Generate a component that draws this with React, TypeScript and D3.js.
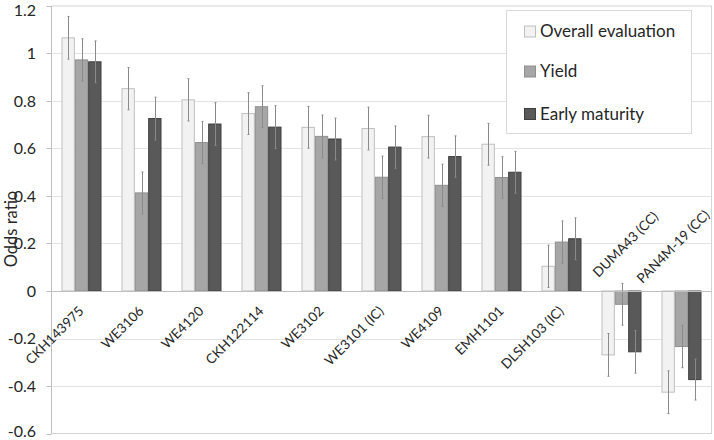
import React from "react";
import * as d3 from "d3";

const categories = ["CKH143975", "WE3106", "WE4120", "CKH122114", "WE3102", "WE3101 (IC)", "WE4109", "EMH1101", "DLSH103 (IC)", "DUMA43 (CC)", "PAN4M-19 (CC)"];
const seriesNames = ["Overall evaluation", "Yield", "Early maturity"];
const overall = [1.066, 0.852, 0.805, 0.747, 0.689, 0.684, 0.65, 0.618, 0.104, -0.269, -0.426];
const overallErr = [0.09, 0.089, 0.089, 0.088, 0.088, 0.09, 0.09, 0.088, 0.089, 0.09, 0.09];
const yieldV = [0.973, 0.413, 0.625, 0.776, 0.651, 0.479, 0.445, 0.478, 0.206, -0.056, -0.234];
const yieldErr = [0.089, 0.088, 0.089, 0.088, 0.09, 0.089, 0.089, 0.087, 0.089, 0.088, 0.089];
const early = [0.965, 0.726, 0.703, 0.69, 0.64, 0.606, 0.566, 0.5, 0.22, -0.256, -0.373];
const earlyErr = [0.088, 0.09, 0.09, 0.09, 0.088, 0.089, 0.087, 0.088, 0.088, 0.09, 0.086];
const yTicks = [-0.6, -0.4, -0.2, 0, 0.2, 0.4, 0.6, 0.8, 1, 1.2];

const fills = ["#f2f2f2", "#a6a6a6", "#595959"];
const strokes = ["#bfbfbf", "#8f8f8f", "#3f3f3f"];
const FONT = "Lato, 'Open Sans', sans-serif";
const TXT = "#262626";

export default function App() {
  const W = 714, H = 440;
  const left = 51.5, right = 711.5, top = 6, bottom = 433.5;
  const y = d3.scaleLinear().domain([-0.6, 1.2]).range([bottom, top]);
  const x = d3.scaleBand<string>().domain(categories).range([left, right]).padding(0);
  const xs = d3.scaleBand<string>().domain(seriesNames).range([10, 50]).padding(0);
  const values = [overall, yieldV, early];
  const errs = [overallErr, yieldErr, earlyErr];
  const fmt = (v: number) => (v === 0 ? "0" : String(+v.toFixed(1)));

  return (
    <svg width={W} height={H} style={{ position: "absolute", left: 0, top: 0, background: "#fff" }} fontFamily={FONT}>
      <rect x={0} y={0} width={W} height={H} fill="#fff" />
      {yTicks.filter((t) => t !== 0 && t !== 1.2 && t !== -0.6).map((t) => (
        <line key={"g" + t} x1={left} x2={right} y1={Math.round(y(t)) + 0.5} y2={Math.round(y(t)) + 0.5} stroke="#c6c6c6" strokeDasharray="1 1" />
      ))}
      <rect x={left} y={top} width={right - left} height={bottom - top} fill="none" stroke="#d4d4d4" />
      {values.map((vals, si) => (
        <g key={"s" + si}>
          {vals.map((v, i) => {
            const bx = (x(categories[i]) as number) + (xs(seriesNames[si]) as number);
            const y0 = y(0), y1 = y(v);
            return (
              <rect key={i} x={bx + 0.5} y={Math.min(y0, y1)} width={xs.bandwidth() - 1} height={Math.abs(y1 - y0)} fill={fills[si]} stroke={strokes[si]} strokeWidth={1} />
            );
          })}
          {vals.map((v, i) => {
            const cx = Math.round((x(categories[i]) as number) + (xs(seriesNames[si]) as number) + xs.bandwidth() / 2) + 0.5;
            const e = errs[si][i];
            return (
              <g key={"e" + i} stroke="#8a8a8a" strokeWidth={1}>
                <line x1={cx} x2={cx} y1={y(v + e)} y2={y(v - e)} />
                <line x1={cx - 1} x2={cx + 1} y1={y(v + e)} y2={y(v + e)} />
                <line x1={cx - 1} x2={cx + 1} y1={y(v - e)} y2={y(v - e)} />
              </g>
            );
          })}
        </g>
      ))}
      <line x1={left} x2={right} y1={Math.round(y(0)) + 0.5} y2={Math.round(y(0)) + 0.5} stroke="#bfbfbf" />
      <line x1={left} x2={left} y1={top} y2={bottom} stroke="#bfbfbf" />
      {yTicks.map((t) => (
        <g key={"t" + t}>
          <line x1={left - 5} x2={left} y1={Math.round(y(t)) + 0.5} y2={Math.round(y(t)) + 0.5} stroke="#bfbfbf" />
          <text x={36} y={Math.max(10, Math.min(y(t), 431))} dy="0.35em" textAnchor="end" fontSize={16} fill={TXT}>{fmt(t)}</text>
        </g>
      ))}
      <text transform={`translate(17,229) rotate(-90)`} textAnchor="middle" fontSize={16.5} fill={TXT}>Odds ratio</text>
      {categories.map((c, i) => {
        const cx = (x(c) as number) + x.bandwidth() / 2;
        if (i === 9) {
          return <text key={c} transform={`translate(${cx - 23},${278}) rotate(-45)`} fontSize={13.5} fill={TXT}>{c}</text>;
        }
        if (i === 10) {
          return <text key={c} transform={`translate(${cx - 39},${284}) rotate(-45)`} fontSize={13.5} fill={TXT}>{c}</text>;
        }
        return <text key={c} transform={`translate(${cx + 3},${312}) rotate(-45)`} textAnchor="end" fontSize={13.5} fill={TXT}>{c}</text>;
      })}
      <g>
        <rect x={506.5} y={10.5} width={185} height={123} fill="#fff" stroke="#d9d9d9" />
        {seriesNames.map((s, i) => {
          const cy = [31.5, 71.5, 114][i];
          return (
            <g key={s}>
              <rect x={524.5} y={cy - 5.5} width={11} height={11} fill={fills[i]} stroke={strokes[i]} />
              <text x={540} y={cy} dy="0.35em" fontSize={17} fill={TXT}>{s}</text>
            </g>
          );
        })}
      </g>
    </svg>
  );
}
